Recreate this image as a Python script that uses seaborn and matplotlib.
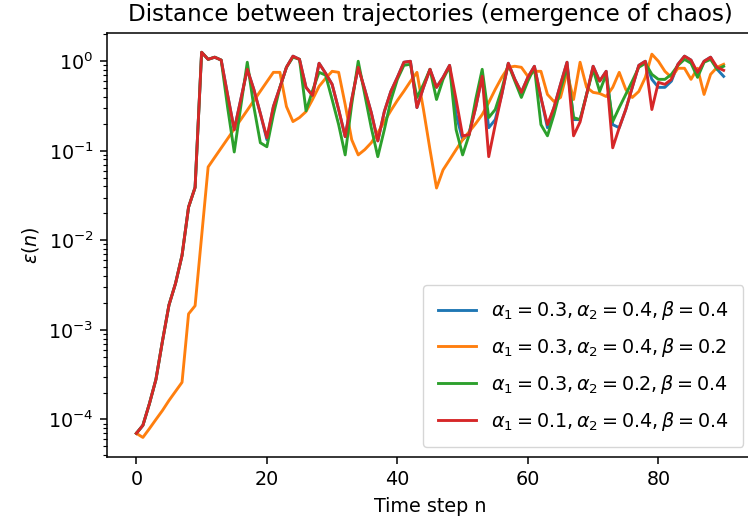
import numpy as np
import pandas as pd
import matplotlib
matplotlib.use("Agg")
import matplotlib.pyplot as plt
import seaborn as sns

# time steps
steps = list(range(91))

# distance between the two trajectories for each parameter set
eps_a03_a04_b04 = [
    7.0e-5, 8.6e-5, 1.5e-4, 2.8e-4, 7.5e-4, 1.9e-3, 3.3e-3, 6.8e-3, 0.0235, 0.039,
    1.26, 1.05, 1.11, 1.03, 0.415, 0.172, 0.374, 0.813, 0.485, 0.261,
    0.133, 0.312, 0.511, 0.856, 1.14, 1.05, 0.511, 0.415, 0.95, 0.733,
    0.552, 0.289, 0.144, 0.374, 0.856, 0.485, 0.267, 0.129, 0.274, 0.46,
    0.661, 0.975, 1.0, 0.304, 0.511, 0.813, 0.511, 0.661, 0.90, 0.254,
    0.133, 0.159, 0.304, 0.68, 0.181, 0.223, 0.426, 0.95, 0.628, 0.449,
    0.661, 0.879, 0.394, 0.181, 0.304, 0.552, 0.975, 0.223, 0.223, 0.426,
    0.879, 0.60, 0.772, 0.196, 0.181, 0.289, 0.511, 0.90, 1.0, 0.628,
    0.511, 0.511, 0.60, 0.925, 1.14, 1.03, 0.696, 1.0, 1.11, 0.813,
    0.678,
]
eps_a03_a04_b02 = [
    7.0e-5, 6.3e-5, 7.9e-5, 1.0e-4, 1.26e-4, 1.63e-4, 2.06e-4, 2.6e-4, 1.51e-3, 1.86e-3,
    0.0111, 0.066, 0.0843, 0.1075, 0.137, 0.175, 0.223, 0.284, 0.363, 0.463,
    0.590, 0.752, 0.752, 0.312, 0.212, 0.235, 0.274, 0.374, 0.524, 0.644,
    0.772, 0.752, 0.329, 0.133, 0.090, 0.103, 0.123, 0.159, 0.212, 0.281,
    0.365, 0.463, 0.596, 0.752, 0.289, 0.103, 0.0384, 0.0612, 0.0793, 0.103,
    0.133, 0.163, 0.201, 0.254, 0.346, 0.485, 0.661, 0.856, 0.879, 0.856,
    0.678, 0.772, 0.772, 0.426, 0.355, 0.394, 0.752, 0.374, 0.975, 0.511,
    0.449, 0.437, 0.404, 0.511, 0.752, 0.485, 0.394, 0.46, 0.661, 1.20,
    1.0, 0.772, 0.661, 0.835, 0.835, 0.628, 0.835, 0.426, 0.714, 0.856,
    0.925,
]
eps_a03_a02_b04 = [
    7.0e-5, 8.6e-5, 1.5e-4, 2.8e-4, 7.5e-4, 1.9e-3, 3.3e-3, 6.8e-3, 0.0235, 0.039,
    1.26, 1.05, 1.11, 1.03, 0.30, 0.097, 0.312, 0.975, 0.312, 0.123,
    0.111, 0.254, 0.511, 0.856, 1.11, 1.05, 0.28, 0.47, 0.752, 0.70,
    0.374, 0.196, 0.090, 0.329, 1.0, 0.426, 0.181, 0.086, 0.172, 0.365,
    0.628, 0.90, 0.925, 0.394, 0.552, 0.813, 0.374, 0.628, 0.879, 0.172,
    0.090, 0.151, 0.374, 0.813, 0.235, 0.289, 0.485, 0.925, 0.60, 0.394,
    0.60, 0.856, 0.196, 0.147, 0.254, 0.485, 0.856, 0.235, 0.223, 0.426,
    0.813, 0.46, 0.714, 0.212, 0.304, 0.426, 0.60, 0.856, 0.95, 0.714,
    0.628, 0.628, 0.714, 0.90, 1.05, 0.95, 0.661, 0.975, 1.05, 0.813,
    0.879,
]
eps_a01_a04_b04 = [
    7.0e-5, 8.6e-5, 1.5e-4, 2.8e-4, 7.5e-4, 1.9e-3, 3.3e-3, 6.8e-3, 0.0235, 0.039,
    1.26, 1.05, 1.11, 1.03, 0.415, 0.172, 0.374, 0.813, 0.485, 0.261,
    0.140, 0.312, 0.511, 0.856, 1.14, 1.05, 0.511, 0.415, 0.95, 0.733,
    0.552, 0.289, 0.144, 0.374, 0.856, 0.485, 0.267, 0.129, 0.274, 0.46,
    0.661, 0.975, 1.0, 0.304, 0.511, 0.813, 0.511, 0.661, 0.90, 0.374,
    0.147, 0.151, 0.304, 0.68, 0.086, 0.196, 0.426, 0.95, 0.628, 0.449,
    0.661, 0.879, 0.394, 0.196, 0.304, 0.552, 0.975, 0.147, 0.21, 0.426,
    0.879, 0.60, 0.772, 0.108, 0.181, 0.289, 0.511, 0.90, 1.0, 0.289,
    0.581, 0.552, 0.628, 0.925, 1.14, 1.03, 0.752, 1.0, 1.11, 0.856,
    0.792,
]

labels = [
    r"$\alpha_1 = 0.3, \alpha_2 = 0.4, \beta = 0.4$",
    r"$\alpha_1 = 0.3, \alpha_2 = 0.4, \beta = 0.2$",
    r"$\alpha_1 = 0.3, \alpha_2 = 0.2, \beta = 0.4$",
    r"$\alpha_1 = 0.1, \alpha_2 = 0.4, \beta = 0.4$",
]
series = [eps_a03_a04_b04, eps_a03_a04_b02, eps_a03_a02_b04, eps_a01_a04_b04]
colors = sns.color_palette("tab10", 4)

# default matplotlib look, scaled up uniformly
k = 1.38
plt.rcParams.update({
    "font.size": 10 * k,
    "axes.titlesize": 12 * k,
    "axes.titlepad": 6 * k,
    "axes.labelpad": 4 * k,
    "axes.linewidth": 0.8 * k,
    "xtick.major.size": 3.5 * k,
    "ytick.major.size": 3.5 * k,
    "xtick.minor.size": 2 * k,
    "ytick.minor.size": 2 * k,
    "xtick.major.width": 0.8 * k,
    "ytick.major.width": 0.8 * k,
    "xtick.minor.width": 0.6 * k,
    "ytick.minor.width": 0.6 * k,
    "xtick.major.pad": 3.5 * k,
    "ytick.major.pad": 3.5 * k,
})

fig = plt.figure(figsize=(7.48, 5.22), dpi=100)
ax = fig.add_axes([107 / 748, 1 - 456.7 / 522, 646 / 748, 423.7 / 522])

for vals, lab, col in zip(series, labels, colors):
    sns.lineplot(x=steps, y=vals, label=lab, color=col, linewidth=1.5 * k, ax=ax)

ax.set_yscale("log")
ax.set_title("Distance between trajectories (emergence of chaos)")
ax.set_xlabel("Time step n")
ax.set_ylabel(r"$\epsilon(n)$")
ax.set_xticks([0, 20, 40, 60, 80])
ax.legend(loc="lower right", fontsize=10 * k, borderpad=0.75, labelspacing=0.72)

fig.savefig("out.png", dpi=100)
